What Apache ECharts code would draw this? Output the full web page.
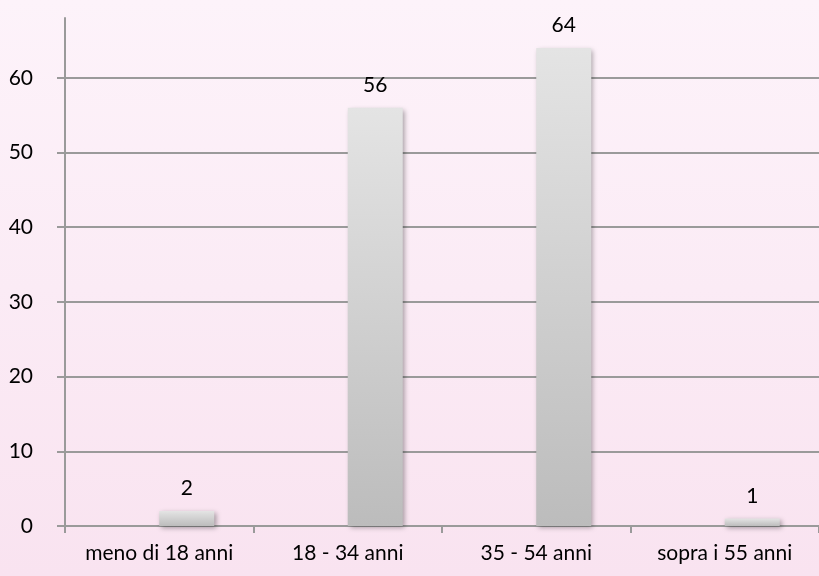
<!DOCTYPE html>
<html>
<head>
<meta charset="utf-8">
<script src="https://cdn.jsdelivr.net/npm/echarts@6/dist/echarts.min.js"></script>
<style>
html,body{margin:0;padding:0;}
#chart{width:819px;height:576px;}
</style>
</head>
<body>
<div id="chart"></div>
<script>
const categories = ['meno di 18 anni', '18 - 34 anni', '35 - 54 anni', 'sopra i 55 anni'];
const values = [2, 56, 64, 1];
const placeholder = ['-', '-', '-', '-'];
const yTicks = [0, 10, 20, 30, 40, 50, 60];
const yMax = 68;

const chart = echarts.init(document.getElementById('chart'));
const font = 'Lato, "Open Sans", sans-serif';
const axisGray = '#9a9a9a';

chart.setOption({
  animation: false,
  backgroundColor: {
    type: 'linear', x: 0, y: 0, x2: 0, y2: 1,
    colorStops: [{offset: 0, color: '#fdf3fa'}, {offset: 1, color: '#f9e3f0'}]
  },
  grid: {left: 65, top: 18, width: 760, height: 508, containLabel: false},
  xAxis: {
    type: 'category',
    data: categories,
    boundaryGap: true,
    axisLine: {show: true, lineStyle: {color: axisGray, width: 2}},
    axisTick: {show: true, length: 7, lineStyle: {color: axisGray, width: 2}},
    axisLabel: {color: '#000', fontFamily: font, fontSize: 21, margin: 17, interval: 0}
  },
  yAxis: {
    type: 'value',
    min: 0,
    max: yMax,
    interval: 10,
    axisLine: {show: true, lineStyle: {color: axisGray, width: 2}},
    axisTick: {show: true, length: 8, customValues: yTicks, lineStyle: {color: axisGray, width: 2}},
    axisLabel: {color: '#000', fontFamily: font, fontSize: 21, margin: 32, customValues: yTicks},
    splitLine: {show: true, lineStyle: {color: axisGray, width: 2}}
  },
  series: [
    {
      type: 'bar',
      data: placeholder,
      barWidth: 55,
      barGap: '0%'
    },
    {
      type: 'bar',
      data: values,
      barWidth: 55,
      barGap: '0%',
      itemStyle: {
        color: {
          type: 'linear', x: 0, y: 0, x2: 0, y2: 1,
          colorStops: [{offset: 0, color: '#e4e4e4'}, {offset: 1, color: '#bcbcbc'}]
        },
        shadowColor: 'rgba(0,0,0,0.35)',
        shadowBlur: 5,
        shadowOffsetX: 2,
        shadowOffsetY: 2
      },
      label: {
        show: true,
        position: 'top',
        distance: 12,
        color: '#000',
        fontFamily: font,
        fontSize: 21
      }
    }
  ]
});
</script>
</body>
</html>
